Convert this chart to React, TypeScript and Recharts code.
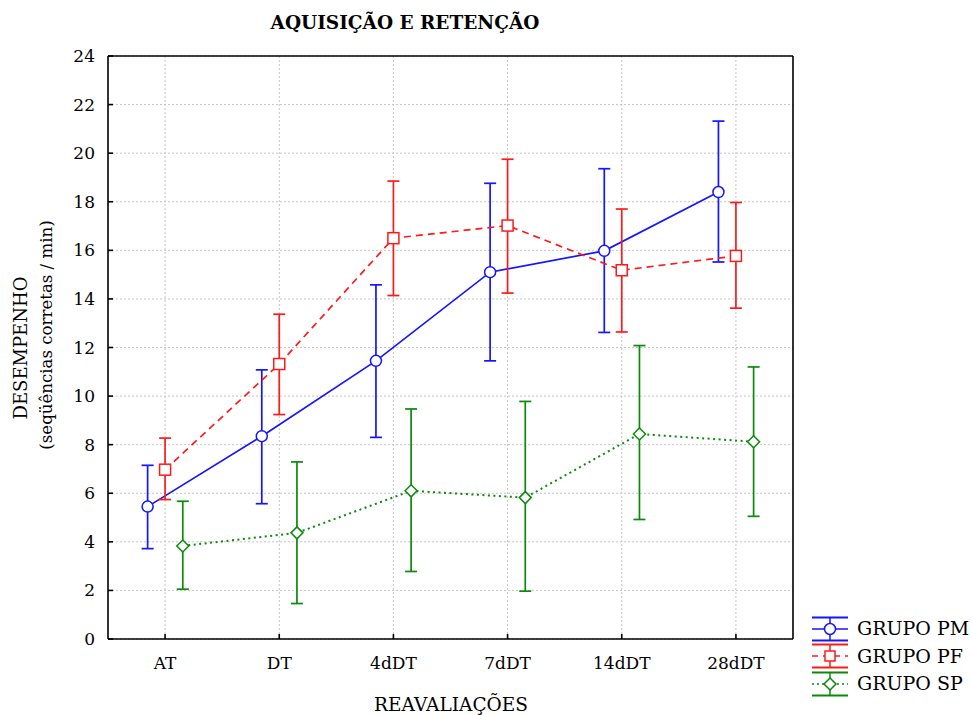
import { LineChart, Line, XAxis, YAxis, CartesianGrid, ErrorBar } from 'recharts';

const categories = ['AT', 'DT', '4dDT', '7dDT', '14dDT', '28dDT'];
const yTicks = [0, 2, 4, 6, 8, 10, 12, 14, 16, 18, 20, 22, 24];

const pmMean = [5.45, 8.35, 11.45, 15.1, 15.98, 18.4];
const pmLow = [3.72, 5.57, 8.3, 11.45, 12.62, 15.52];
const pmHigh = [7.15, 11.08, 14.58, 18.76, 19.36, 21.32];

const pfMean = [6.97, 11.32, 16.5, 17.02, 15.18, 15.77];
const pfLow = [5.74, 9.24, 14.14, 14.24, 12.64, 13.62];
const pfHigh = [8.27, 13.37, 18.85, 19.75, 17.7, 17.97];

const spMean = [3.83, 4.37, 6.1, 5.82, 8.44, 8.12];
const spLow = [2.05, 1.46, 2.78, 1.97, 4.92, 5.05];
const spHigh = [5.67, 7.29, 9.47, 9.78, 12.08, 11.2];

const FONT = '"DejaVu Serif", serif';
const BLUE = '#1515ff';
const RED = '#ff1a1a';
const GREEN = '#0a8a0a';

// points are shifted a bit left/right of the category so the bars don't overlap
const build = (mean: number[], low: number[], high: number[], shift: number) =>
  mean.map((m, i) => ({ x: i + shift, y: m, err: [m - low[i], high[i] - m] }));

const pmData = build(pmMean, pmLow, pmHigh, -0.153);
const pfData = build(pfMean, pfLow, pfHigh, 0);
const spData = build(spMean, spLow, spHigh, 0.155);

const circleDot = (p: any) => (
  <circle key={`c${p.index}`} cx={p.cx} cy={p.cy} r={5.5} fill="#fff" stroke={BLUE} strokeWidth={1.5} />
);
const squareDot = (p: any) => (
  <rect key={`s${p.index}`} x={p.cx - 5.5} y={p.cy - 5.5} width={11} height={11} fill="#fff" stroke={RED} strokeWidth={1.5} />
);
const diamondDot = (p: any) => (
  <polygon
    key={`d${p.index}`}
    points={`${p.cx},${p.cy - 6} ${p.cx + 6},${p.cy} ${p.cx},${p.cy + 6} ${p.cx - 6},${p.cy}`}
    fill="#fff"
    stroke={GREEN}
    strokeWidth={1.5}
  />
);

const legendItems = [
  { name: 'GRUPO PM', color: BLUE, dash: undefined as string | undefined, mark: 'circle' },
  { name: 'GRUPO PF', color: RED, dash: '6 5', mark: 'square' },
  { name: 'GRUPO SP', color: GREEN, dash: '2 3', mark: 'diamond' },
];

function LegendSymbol({ color, dash, mark }: { color: string; dash?: string; mark: string }) {
  return (
    <svg width={38} height={26} style={{ display: 'block' }}>
      <line x1={1} x2={37} y1={1.5} y2={1.5} stroke={color} strokeWidth={2} />
      <line x1={1} x2={37} y1={24.5} y2={24.5} stroke={color} strokeWidth={2} />
      <line x1={19} x2={19} y1={1.5} y2={24.5} stroke={color} strokeWidth={1.5} />
      <line x1={1} x2={37} y1={13} y2={13} stroke={color} strokeWidth={1.5} strokeDasharray={dash} />
      {mark === 'circle' && <circle cx={19} cy={13} r={5.5} fill="#fff" stroke={color} strokeWidth={1.5} />}
      {mark === 'square' && <rect x={14} y={8} width={10} height={10} fill="#fff" stroke={color} strokeWidth={1.5} />}
      {mark === 'diamond' && (
        <polygon points="19,7 25,13 19,19 13,13" fill="#fff" stroke={color} strokeWidth={1.5} />
      )}
    </svg>
  );
}

const rotated = (cx: number, cy: number, size: number): React.CSSProperties => ({
  position: 'absolute',
  left: cx,
  top: cy,
  transform: 'translate(-50%, -50%) rotate(-90deg)',
  whiteSpace: 'nowrap',
  fontFamily: FONT,
  fontSize: size,
  lineHeight: 1,
});

export default function App() {
  const tickStyle = { fill: '#000', fontSize: 17, fontFamily: FONT };
  const frame = { stroke: '#000', strokeWidth: 1.6 };
  return (
    <div style={{ position: 'absolute', left: 0, top: 0, width: 972, height: 715, background: '#fff' }}>
      <LineChart
        width={972}
        height={715}
        margin={{ top: 55, right: 178, bottom: 75, left: 107 }}
      >
        <CartesianGrid
          xAxisId="bottom"
          yAxisId="left"
          stroke="#c4c4c4"
          strokeDasharray="2 2"
          verticalValues={[0, 1, 2, 3, 4, 5]}
          horizontalValues={yTicks}
        />
        <XAxis
          xAxisId="bottom"
          type="number"
          dataKey="x"
          domain={[-0.5, 5.5]}
          ticks={[0, 1, 2, 3, 4, 5]}
          tickFormatter={(v: number) => categories[v]}
          height={1}
          tickSize={-5}
          tickMargin={23}
          tick={tickStyle}
          axisLine={frame}
          tickLine={frame}
          interval={0}
        />
        <XAxis
          xAxisId="top"
          orientation="top"
          type="number"
          domain={[-0.5, 5.5]}
          ticks={[0, 1, 2, 3, 4, 5]}
          tickFormatter={() => ''}
          height={1}
          tickSize={-5}
          axisLine={frame}
          tickLine={frame}
          interval={0}
        />
        <YAxis
          yAxisId="left"
          type="number"
          domain={[0, 24]}
          ticks={yTicks}
          width={1}
          tickSize={-5}
          tickMargin={18}
          tick={tickStyle}
          axisLine={frame}
          tickLine={frame}
          interval={0}
        />
        <YAxis
          yAxisId="right"
          orientation="right"
          type="number"
          domain={[0, 13]}
          ticks={[0, 1, 2, 3, 4, 5, 6, 7, 8, 9, 10, 11, 12, 13]}
          tickFormatter={() => ''}
          width={1}
          tickSize={-5}
          axisLine={frame}
          tickLine={frame}
          interval={0}
        />
        <Line
          xAxisId="bottom"
          yAxisId="left"
          data={pmData}
          dataKey="y"
          stroke={BLUE}
          strokeWidth={1.7}
          dot={circleDot}
          activeDot={false}
          isAnimationActive={false}
        >
          <ErrorBar dataKey="err" direction="y" width={6} stroke={BLUE} strokeWidth={1.7} />
        </Line>
        <Line
          xAxisId="bottom"
          yAxisId="left"
          data={pfData}
          dataKey="y"
          stroke={RED}
          strokeWidth={1.7}
          strokeDasharray="7 5"
          dot={squareDot}
          activeDot={false}
          isAnimationActive={false}
        >
          <ErrorBar dataKey="err" direction="y" width={6} stroke={RED} strokeWidth={1.7} />
        </Line>
        <Line
          xAxisId="bottom"
          yAxisId="left"
          data={spData}
          dataKey="y"
          stroke={GREEN}
          strokeWidth={2}
          strokeDasharray="2 3.5"
          dot={diamondDot}
          activeDot={false}
          isAnimationActive={false}
        >
          <ErrorBar dataKey="err" direction="y" width={6} stroke={GREEN} strokeWidth={1.7} />
        </Line>
      </LineChart>

      <div
        style={{
          position: 'absolute',
          left: 405,
          top: 22,
          transform: 'translate(-50%, -50%)',
          whiteSpace: 'nowrap',
          fontFamily: FONT,
          fontWeight: 'bold',
          fontSize: 18.5,
        }}
      >
        AQUISIÇÃO E RETENÇÃO
      </div>
      <div style={rotated(21, 348, 18)}>DESEMPENHO</div>
      <div style={rotated(47, 335, 16.6)}>(seqüências corretas / min)</div>
      <div
        style={{
          position: 'absolute',
          left: 451,
          top: 704,
          transform: 'translate(-50%, -50%)',
          whiteSpace: 'nowrap',
          fontFamily: FONT,
          fontSize: 18.5,
        }}
      >
        REAVALIAÇÕES
      </div>

      <div style={{ position: 'absolute', left: 811, top: 615 }}>
        {legendItems.map((it) => (
          <div key={it.name} style={{ display: 'flex', alignItems: 'center', height: 27.5 }}>
            <LegendSymbol color={it.color} dash={it.dash} mark={it.mark} />
            <span style={{ marginLeft: 8, fontFamily: FONT, fontSize: 19, lineHeight: 1 }}>{it.name}</span>
          </div>
        ))}
      </div>
    </div>
  );
}
